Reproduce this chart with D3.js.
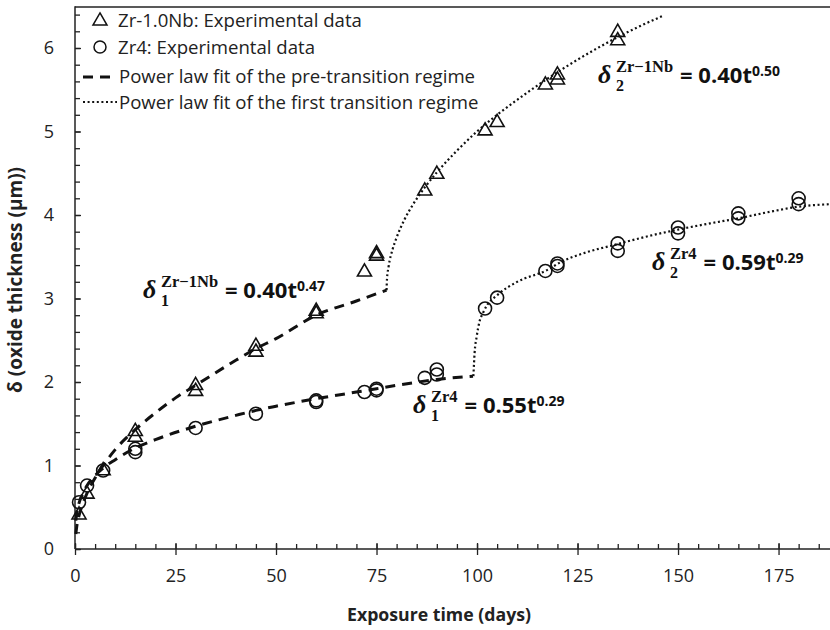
<!DOCTYPE html>
<html><head><meta charset="utf-8">
<script src="https://cdn.jsdelivr.net/npm/d3@7"></script>
<style>body{margin:0;background:#fff}svg{display:block}</style>
</head><body>
<svg id="c" width="830" height="630"></svg>
<script>
// Experimental data
const nbDays = [1, 3, 7, 15, 15, 30, 30, 45, 45, 60, 60, 72, 75, 75, 87, 90, 102, 105, 117, 120, 120, 135, 135];
const nbThick = [0.42, 0.67, 0.95, 1.35, 1.42, 1.9, 1.97, 2.37, 2.44, 2.83, 2.86, 3.33, 3.52, 3.55, 4.3, 4.5, 5.02, 5.12, 5.57, 5.63, 5.69, 6.1, 6.2];
const zrDays = [1, 3, 7, 15, 15, 30, 45, 60, 60, 72, 75, 75, 87, 90, 90, 102, 105, 117, 120, 120, 135, 135, 150, 150, 165, 165, 180, 180];
const zrThick = [0.56, 0.76, 0.94, 1.16, 1.2, 1.45, 1.62, 1.76, 1.78, 1.88, 1.9, 1.92, 2.05, 2.09, 2.15, 2.88, 3.01, 3.33, 3.39, 3.42, 3.57, 3.66, 3.78, 3.85, 3.96, 4.02, 4.13, 4.2];
// Fit curves
const nbPreDays = [0.2, 0.5, 1, 2, 3, 5, 7, 10, 15, 20, 25, 30, 40, 45, 50, 60, 70, 77.5];
const nbPreThick = [0.18, 0.29, 0.40, 0.55, 0.67, 0.85, 1.0, 1.19, 1.43, 1.63, 1.81, 1.96, 2.26, 2.4, 2.52, 2.8, 2.97, 3.1];
const nbTrDays = [77.5, 77.6, 78, 79, 80, 82, 84, 87, 90, 95, 100, 105, 110, 115, 120, 125, 130, 135, 140, 146];
const nbTrThick = [3.1, 3.23, 3.38, 3.59, 3.73, 3.95, 4.12, 4.33, 4.51, 4.77, 5.0, 5.2, 5.38, 5.55, 5.71, 5.86, 6.0, 6.13, 6.25, 6.38];
const zrPreDays = [0.2, 0.5, 1, 2, 3, 5, 7, 10, 15, 20, 30, 40, 45, 50, 60, 70, 75, 80, 90, 99];
const zrPreThick = [0.34, 0.45, 0.55, 0.67, 0.76, 0.88, 0.97, 1.07, 1.21, 1.31, 1.47, 1.6, 1.66, 1.71, 1.8, 1.88, 1.92, 1.96, 2.03, 2.07];
const zrTrDays = [99.1, 99.4, 99.9, 100.6, 101.5, 102.5, 105, 110, 117.4, 120.6, 127, 134, 142, 150.5, 158, 165, 172, 180, 188];
const zrTrThick = [2.07, 2.35, 2.54, 2.72, 2.83, 2.92, 3.04, 3.2, 3.34, 3.43, 3.55, 3.64, 3.74, 3.83, 3.9, 3.96, 4.03, 4.1, 4.13];
// Ticks
const xTicks = [0, 25, 50, 75, 100, 125, 150, 175];
const yTicks = [0, 1, 2, 3, 4, 5, 6];
const legendLabels = ["Zr-1.0Nb: Experimental data", "Zr4: Experimental data", "Power law fit of the pre-transition regime", "Power law fit of the first transition regime"];

const FONT = "'Open Sans', sans-serif";
const SERIF = "'Liberation Serif', serif";
const svg = d3.select("#c");
const L = 75, R = 830, T = 6.25, B = 549;
const x = d3.scaleLinear().domain([0, 187.8]).range([L, R]);
const y = d3.scaleLinear().domain([0, 6.5]).range([B, T]);

// frame top
svg.append("line").attr("x1", L).attr("x2", R).attr("y1", 7).attr("y2", 7).attr("stroke", "#222").attr("stroke-width", 1.5);

// axes
const xAxis = svg.append("g").attr("transform", `translate(0,${B})`);
xAxis.call(d3.axisBottom(x).tickValues(d3.range(0, 188, 5)).tickSize(-5).tickFormat(""))
  .call(g => g.select(".domain").remove());
xAxis.append("g").call(d3.axisBottom(x).tickValues(xTicks).tickSizeInner(6).tickSizeOuter(0).tickFormat(d3.format("d")))
  .call(g => g.select(".domain").remove())
  .call(g => g.selectAll(".tick line").attr("y1", -6))
  .call(g => g.selectAll("text").attr("font-family", FONT).attr("font-size", 18).attr("fill", "#222").attr("dy", "1.35em"));
xAxis.append("line").attr("x1", L).attr("x2", R).attr("stroke", "#222").attr("stroke-width", 1.5);
xAxis.selectAll(".tick line").attr("stroke", "#222").attr("stroke-width", 1.3);

const yAxis = svg.append("g").attr("transform", `translate(${L},0)`);
yAxis.call(d3.axisLeft(y).tickValues(d3.range(0, 6.45, 0.2)).tickSize(-5).tickFormat(""))
  .call(g => g.select(".domain").remove());
yAxis.append("g").call(d3.axisLeft(y).tickValues(yTicks).tickSizeInner(7).tickSizeOuter(0).tickFormat(d3.format("d")))
  .call(g => g.select(".domain").remove())
  .call(g => g.selectAll(".tick line").attr("x2", 6))
  .call(g => g.selectAll("text").attr("font-family", FONT).attr("font-size", 18).attr("fill", "#222").attr("x", -21));
yAxis.append("line").attr("y1", T).attr("y2", B).attr("stroke", "#222").attr("stroke-width", 1.5);
yAxis.selectAll(".tick line").attr("stroke", "#222").attr("stroke-width", 1.3);

// axis titles
svg.append("text").attr("x", 439).attr("y", 621).attr("text-anchor", "middle")
  .attr("font-family", FONT).attr("font-weight", "bold").attr("font-size", 17.7).attr("fill", "#222")
  .text("Exposure time (days)");
svg.append("text").attr("transform", "translate(22,280) rotate(-90)").attr("text-anchor", "middle")
  .attr("font-family", FONT).attr("font-weight", "bold").attr("font-size", 19).attr("fill", "#222")
  .text("δ (oxide thickness (μm))");

// fit lines
const line = d3.line().x(d => x(d[0])).y(d => y(d[1])).curve(d3.curveMonotoneX);
const zip = (a, b) => a.map((v, i) => [v, b[i]]);
const plot = svg.append("g");
const dashed = {dash: "10,7", w: 3};
const dotted = {dash: "2,2.6", w: 2.2};
[[nbPreDays, nbPreThick, dashed], [zrPreDays, zrPreThick, dashed], [nbTrDays, nbTrThick, dotted], [zrTrDays, zrTrThick, dotted]]
  .forEach(([a, b, s]) => {
    plot.append("path").attr("d", line(zip(a, b))).attr("fill", "none").attr("stroke", "#111")
      .attr("stroke-width", s.w).attr("stroke-dasharray", s.dash);
  });

// markers
const tri = d3.symbol().type(d3.symbolTriangle).size(85);
plot.selectAll(".tri").data(zip(nbDays, nbThick)).join("path")
  .attr("d", tri).attr("transform", d => `translate(${x(d[0])},${y(d[1]) + 1})`)
  .attr("fill", "none").attr("stroke", "#111").attr("stroke-width", 1.6);
plot.selectAll(".circ").data(zip(zrDays, zrThick)).join("circle")
  .attr("cx", d => x(d[0])).attr("cy", d => y(d[1])).attr("r", 6.5)
  .attr("fill", "none").attr("stroke", "#111").attr("stroke-width", 1.6);

// legend
const lg = svg.append("g");
lg.append("path").attr("d", tri).attr("transform", "translate(100,21)").attr("fill", "none").attr("stroke", "#111").attr("stroke-width", 1.5);
lg.append("circle").attr("cx", 100).attr("cy", 47).attr("r", 6).attr("fill", "none").attr("stroke", "#111").attr("stroke-width", 1.5);
lg.append("line").attr("x1", 83).attr("x2", 117).attr("y1", 77).attr("y2", 77).attr("stroke", "#111").attr("stroke-width", 3).attr("stroke-dasharray", "10,7");
lg.append("line").attr("x1", 83).attr("x2", 117).attr("y1", 102).attr("y2", 102).attr("stroke", "#111").attr("stroke-width", 2).attr("stroke-dasharray", "2,2.6");
legendLabels.forEach((t, i) => {
  lg.append("text").attr("x", i < 2 ? 118 : 119).attr("y", [27, 54, 83, 109][i])
    .attr("font-family", FONT).attr("font-size", 18.6).attr("fill", "#222").text(t);
});

// annotations: one text element per equation, parts as tspans
function annot(xd, yb, sup, sub, main, exp) {
  const t = svg.append("text").attr("fill", "#111").attr("font-weight", "bold");
  t.append("tspan").attr("x", xd).attr("y", yb).attr("font-family", SERIF)
    .attr("font-style", "italic").attr("font-size", 26).text("δ");
  const s = t.append("tspan").attr("x", xd + 18).attr("y", yb - 11).attr("font-family", SERIF)
    .attr("font-size", 16.5).text(sup);
  const supW = s.node().getComputedTextLength();
  t.append("tspan").attr("x", xd + 18).attr("y", yb + 7.5).attr("font-family", SERIF)
    .attr("font-size", 16).text(sub);
  const mx = xd + 18 + supW + 7;
  const m = t.append("tspan").attr("x", mx).attr("y", yb).attr("font-family", FONT)
    .attr("font-size", 22).text(main);
  const mw = m.node().getComputedTextLength();
  t.append("tspan").attr("x", mx + mw).attr("y", yb - 7).attr("font-family", FONT)
    .attr("font-size", 14).text(exp);
}
annot(143, 298, "Zr−1Nb", "1", "= 0.40t", "0.47");
annot(598, 83, "Zr−1Nb", "2", "= 0.40t", "0.50");
annot(652, 270, "Zr4", "2", "= 0.59t", "0.29");
annot(413, 413, "Zr4", "1", "= 0.55t", "0.29");
</script>
</body></html>
